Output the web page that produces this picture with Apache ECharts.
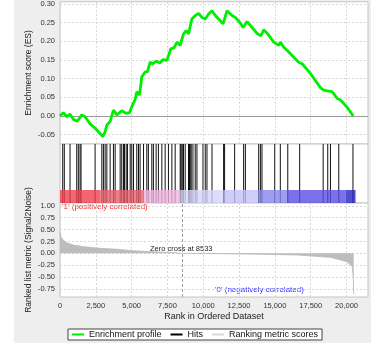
<!DOCTYPE html>
<html>
<head>
<meta charset="utf-8">
<script src="https://cdn.jsdelivr.net/npm/echarts@6/dist/echarts.min.js"></script>
<style>
  html, body { margin: 0; padding: 0; background: #fff; }
  #chart { width: 371px; height: 343px; }
</style>
</head>
<body>
<div id="chart"></div>
<script>
// Running enrichment score
const esRank = [0, 50, 230, 470, 700, 930, 1210, 1520, 1750, 2100, 2450, 2680, 2990, 3150, 3270, 3500,
  3730, 3970, 4310, 4620, 4850, 5010, 5240, 5360, 5550, 5710, 5940, 6100, 6290, 6480, 6710, 6990,
  7180, 7460, 7740, 7970, 8160, 8390, 8620, 8810, 8970, 9210, 9440, 9670, 9910, 10140, 10370, 10610,
  10840, 11070, 11380, 11660, 12010, 12240, 12540, 12780, 13060, 13410, 13760, 14030, 14220, 14500,
  14920, 15270, 15380, 15620, 15850, 16200, 16660, 16900, 17480, 18180, 18410, 18650, 19000, 19350,
  19580, 20050, 20470];
const esScore = [0, -0.003, 0.009, -0.002, 0.005, -0.009, -0.014, 0.003, -0.002, -0.021, -0.033, -0.042,
  -0.055, -0.042, -0.024, -0.015, 0.016, 0.003, 0.014, 0.007, 0.009, 0.025, 0.043, 0.065, 0.056, 0.105,
  0.118, 0.118, 0.144, 0.140, 0.147, 0.142, 0.151, 0.149, 0.180, 0.183, 0.198, 0.189, 0.220, 0.229,
  0.220, 0.260, 0.269, 0.275, 0.264, 0.260, 0.273, 0.282, 0.269, 0.260, 0.247, 0.282, 0.269, 0.264,
  0.251, 0.237, 0.253, 0.237, 0.221, 0.215, 0.231, 0.220, 0.198, 0.189, 0.198, 0.184, 0.176, 0.162,
  0.144, 0.140, 0.114, 0.076, 0.069, 0.067, 0.065, 0.047, 0.043, 0.023, 0.0];

// Gene set member positions in the ranked list
const hitRanks = [190, 300, 700, 1170, 1280, 1400, 1470, 2450, 2920, 3030, 3150, 3270, 3500, 3730, 3850,
  4200, 4310, 4430, 4500, 4620, 4710, 4900, 5010, 5130, 5360, 5480, 5590, 5830, 6060, 6170, 6410,
  6520, 6710, 6870, 7110, 7340, 7570, 7810, 8040, 8390, 8440, 8510, 8580, 8620, 8740, 8970, 9040,
  9090, 9160, 9280, 9440, 9560, 9980, 10140, 10260, 10610, 11420, 11490, 12190, 12820, 12940, 13870,
  13990, 14100, 14990, 15380, 15900, 16730, 18370, 18690, 18880, 19460, 20450];

// Ranked list metric (Signal2Noise)
const metricRank = [0, 70, 210, 490, 910, 1610, 2800, 3990, 5100, 6290, 8040, 8533, 11190, 13990,
  16570, 18880, 20050, 20400, 20470, 20500];
const metricValue = [0.44, 0.35, 0.28, 0.22, 0.175, 0.14, 0.105, 0.085, 0.055, 0.035, 0.012, 0, -0.008,
  -0.018, -0.035, -0.085, -0.18, -0.28, -0.5, -0.86];

// Colour band segment edges (rank)
const bandEdges = [0, 2800, 5800, 8390, 11400, 13850, 15870, 19930, 20630];
const zeroCross = 8533;
const rankMax = 21500;

const esTicks = [-0.05, 0, 0.05, 0.10, 0.15, 0.20, 0.25, 0.30];
const metricTicks = [-0.75, -0.5, -0.25, 0, 0.25, 0.5, 0.75, 1.0];

const BAND_COLORS = ['#f0404e', '#e8606e', '#f0b4e0', '#d4d4fa', '#c2c2f6', '#8484ee', '#5a4ee4', '#2424c4'];
const FONT = '"Liberation Sans", Arial, sans-serif';
const GRID_LINE = { show: true, lineStyle: { color: '#d6d6d6', type: [2, 2], width: 1 } };

const chart = echarts.init(document.getElementById('chart'));

function xAxisFor(idx, showLabels, showSplit) {
  return {
    type: 'value', gridIndex: idx, min: 0, max: rankMax, interval: 2500,
    axisLine: { show: false }, axisTick: { show: false },
    splitLine: showSplit ? GRID_LINE : { show: false },
    axisLabel: showLabels ? {
      show: true, fontSize: 7.5, color: '#333', fontFamily: FONT, margin: 5, showMaxLabel: false,
      formatter: (v) => v.toLocaleString('en-US'),
    } : { show: false },
    name: showLabels ? 'Rank in Ordered Dataset' : '',
    nameLocation: 'middle', nameGap: 15, nameMoveOverlap: false,
    nameTextStyle: { fontSize: 9, color: '#222', fontFamily: FONT },
  };
}

const bandData = BAND_COLORS.map((c, i) => [bandEdges[i], bandEdges[i + 1], i]);

chart.setOption({
  backgroundColor: '#eeeeee',
  animation: false,
  graphic: [
    { type: 'rect', left: 0, top: 0, shape: { width: 14, height: 343 }, style: { fill: '#fff' }, z: -1 },
    { type: 'text', left: 62, top: 203, style: { text: "'1' (positively correlated)", fill: '#ff2a2a', fontSize: 8, fontFamily: FONT } },
    { type: 'text', left: 215, top: 286, style: { text: "'0' (negatively correlated)", fill: '#3030ff', fontSize: 8, fontFamily: FONT } },
    { type: 'text', left: 150, top: 245, style: { text: 'Zero cross at 8533', fill: '#222', fontSize: 7.5, fontFamily: FONT } },
  ],
  grid: [
    { left: 60, right: 3, top: 1, height: 143, show: true, backgroundColor: '#fff', borderColor: '#c4c4c4', borderWidth: 1 },
    { left: 60, right: 3, top: 144, height: 59, show: true, backgroundColor: '#fff', borderColor: '#c4c4c4', borderWidth: 1 },
    { left: 60, right: 3, top: 203, height: 94, show: true, backgroundColor: '#fff', borderColor: '#c4c4c4', borderWidth: 1 },
  ],
  xAxis: [xAxisFor(0, false, true), xAxisFor(1, false, false), xAxisFor(2, true, true)],
  yAxis: [
    {
      type: 'value', gridIndex: 0, min: -0.075, max: 0.306,
      axisLine: { show: false },
      axisTick: { show: false, customValues: esTicks },
      axisLabel: { customValues: esTicks, fontSize: 7.5, color: '#333', fontFamily: FONT, margin: 5,
        formatter: (v) => v.toFixed(2) },
      splitLine: GRID_LINE,
      name: 'Enrichment score (ES)', nameLocation: 'middle', nameGap: 27, nameMoveOverlap: false,
      nameTextStyle: { fontSize: 8.5, color: '#222', fontFamily: FONT },
    },
    { type: 'value', gridIndex: 1, min: 0, max: 1, show: false },
    {
      type: 'value', gridIndex: 2, min: -0.92, max: 1.06,
      axisLine: { show: false },
      axisTick: { show: false, customValues: metricTicks },
      axisLabel: { customValues: metricTicks, fontSize: 7.5, color: '#333', fontFamily: FONT, margin: 5,
        formatter: (v) => v.toFixed(2) },
      splitLine: GRID_LINE,
      name: 'Ranked list metric (Signal2Noise)', nameLocation: 'middle', nameGap: 27, nameMoveOverlap: false,
      nameTextStyle: { fontSize: 8.5, color: '#222', fontFamily: FONT },
    },
  ],
  legend: {
    left: 68, top: 329, padding: [1, 4], itemWidth: 12, itemHeight: 2, itemGap: 9,
    backgroundColor: '#fff', borderColor: '#444', borderWidth: 1,
    textStyle: { fontSize: 9, color: '#111', fontFamily: FONT },
    data: [
      { name: 'Enrichment profile', icon: 'rect', itemStyle: { color: '#00ee00' } },
      { name: 'Hits', icon: 'rect', itemStyle: { color: '#000' } },
      { name: 'Ranking metric scores', icon: 'rect', itemStyle: { color: '#d8d8d8' } },
    ],
  },
  series: [
    {
      name: 'Enrichment profile', type: 'line', xAxisIndex: 0, yAxisIndex: 0,
      data: esRank.map((r, i) => [r, esScore[i]]),
      showSymbol: false, lineStyle: { color: '#00ee00', width: 2.8 }, itemStyle: { color: '#00ee00' },
      z: 5,
      markLine: {
        silent: true, symbol: 'none', label: { show: false },
        lineStyle: { color: '#9a9a9a', type: 'solid', width: 1 },
        data: [{ yAxis: 0 }],
      },
    },
    {
      name: 'Hits', type: 'custom', xAxisIndex: 1, yAxisIndex: 1,
      data: hitRanks.map((r) => [r]),
      encode: { x: 0 },
      itemStyle: { color: '#000' },
      renderItem: (params, api) => {
        const r = api.value(0);
        const p0 = api.coord([r, 0]);
        const p1 = api.coord([r, 1]);
        return {
          type: 'line',
          shape: { x1: p0[0], y1: p0[1], x2: p1[0], y2: p1[1] },
          style: { stroke: '#111', lineWidth: 1 },
        };
      },
      z: 3,
    },
    {
      name: 'band', type: 'custom', xAxisIndex: 1, yAxisIndex: 1,
      data: bandData,
      encode: { x: [0, 1] },
      renderItem: (params, api) => {
        const a = api.coord([api.value(0), 0.22]);
        const b = api.coord([api.value(1), 0]);
        return {
          type: 'rect',
          shape: { x: a[0], y: a[1], width: b[0] - a[0], height: b[1] - a[1] },
          style: { fill: BAND_COLORS[api.value(2)], opacity: 0.8 },
        };
      },
      z: 4,
    },
    {
      name: 'Ranking metric scores', type: 'line', xAxisIndex: 2, yAxisIndex: 2,
      data: metricRank.map((r, i) => [r, metricValue[i]]),
      showSymbol: false,
      lineStyle: { color: '#b8b8b8', width: 0.8 },
      itemStyle: { color: '#d8d8d8' },
      areaStyle: { color: '#bdbdbd', opacity: 1 },
      markLine: {
        silent: true, symbol: 'none', label: { show: false },
        lineStyle: { color: '#a0a0a0', type: [3, 2], width: 1 },
        data: [{ xAxis: zeroCross }],
      },
    },
  ],
});
</script>
</body>
</html>
